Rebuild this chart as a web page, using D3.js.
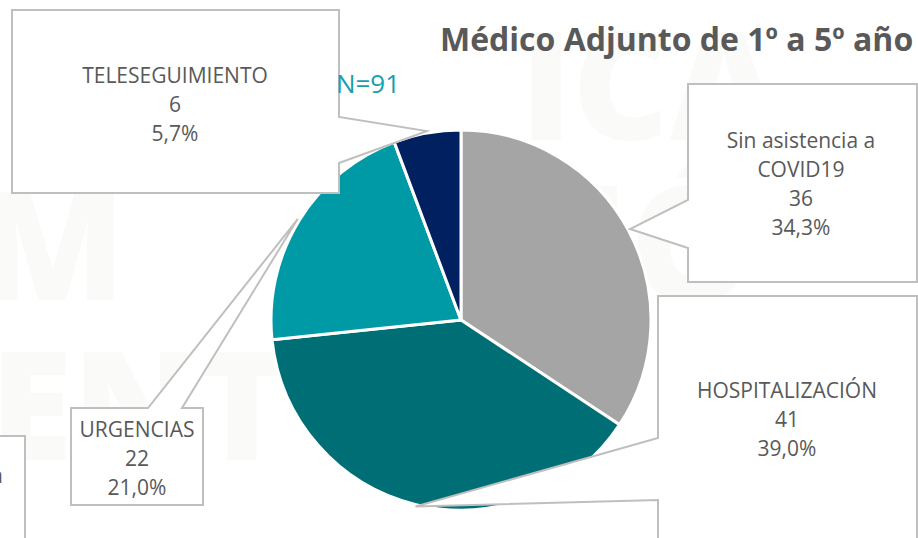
<!DOCTYPE html>
<html>
<head>
<meta charset="utf-8">
<script src="https://cdn.jsdelivr.net/npm/d3@7"></script>
<style>
  body { margin: 0; background: #fff; }
  svg { display: block; font-family: "Open Sans", Lato, sans-serif; }
</style>
</head>
<body>
<svg id="chart" width="918" height="538"></svg>
<script>
var categories = ["Sin asistencia a COVID19", "HOSPITALIZACIÓN", "URGENCIAS", "TELESEGUIMIENTO"];
var values = [36, 41, 22, 6];
var percents = ["34,3%", "39,0%", "21,0%", "5,7%"];
var colors = ["#a5a5a5", "#006f75", "#009aa7", "#002060"];
var titleText = "Médico Adjunto de 1º a 5º año";
var nText = "N=91";

var center = {x: 461, y: 320};
var radius = 190;
var tipRadius = 192;

// callout boxes: box edges, which side the pointer leaves from, the pointer base, label lines
var callouts = [
  {x0: 688, y0: 84, x1: 917, y1: 282, side: "left", b0: 200, b1: 248, cx: 801, y: 148, lines: ["Sin asistencia a", "COVID19"]},
  {x0: 658, y0: 296, x1: 917, y1: 560, side: "left", b0: 438, b1: 500, cx: 787, y: 398, lines: ["HOSPITALIZACIÓN"]},
  {x0: 71, y0: 408, x1: 203, y1: 505, side: "top", b0: 148, b1: 182, cx: 137, y: 437, lines: ["URGENCIAS"]},
  {x0: 12, y0: 10, x1: 339, y1: 193, side: "right", b0: 117, b1: 163, cx: 175, y: 83, lines: ["TELESEGUIMIENTO"]}
];

var svg = d3.select("#chart");

// very faint watermark behind everything
var wm = svg.append("g").attr("fill", "#fafaf9").style("font-weight", "900");
[["M", -20, 300, 150], ["ENT", -10, 460, 150], ["ICA", 520, 140, 150], ["CIÓ", 470, 300, 160]].forEach(function(w) {
  wm.append("text").attr("x", w[1]).attr("y", w[2]).style("font-size", w[3] + "px").text(w[0]);
});

var pie = d3.pie().sort(null).value(function(d) { return d; });
var arcs = pie(values);
var arc = d3.arc().innerRadius(0).outerRadius(radius);
var tipArc = d3.arc().innerRadius(tipRadius).outerRadius(tipRadius);

var g = svg.append("g").attr("transform", "translate(" + center.x + "," + center.y + ")");
g.selectAll("path.slice")
  .data(arcs)
  .enter()
  .append("path")
  .attr("class", "slice")
  .attr("d", arc)
  .attr("fill", function(d, i) { return colors[i]; })
  .attr("stroke", "#fff")
  .attr("stroke-width", 3)
  .attr("stroke-linejoin", "round");

// partial box on the left edge
svg.append("rect")
  .attr("x", -20).attr("y", 436).attr("width", 45).attr("height", 130)
  .attr("fill", "#fff").attr("stroke", "#bfbfbf").attr("stroke-width", 2);
svg.append("text")
  .attr("x", 3).attr("y", 483).attr("text-anchor", "end")
  .attr("fill", "#595959").style("font-size", "21px").text("n");

// callouts
arcs.forEach(function(a, i) {
  var c = callouts[i];
  var t = tipArc.centroid(a);
  var tip = [center.x + t[0], center.y + t[1]];
  var pts;
  if (c.side == "left") {
    pts = [[c.x0, c.y0], [c.x1, c.y0], [c.x1, c.y1], [c.x0, c.y1], [c.x0, c.b1], tip, [c.x0, c.b0]];
  } else if (c.side == "right") {
    pts = [[c.x0, c.y0], [c.x1, c.y0], [c.x1, c.b0], tip, [c.x1, c.b1], [c.x1, c.y1], [c.x0, c.y1]];
  } else {
    pts = [[c.x0, c.y0], [c.b0, c.y0], tip, [c.b1, c.y0], [c.x1, c.y0], [c.x1, c.y1], [c.x0, c.y1]];
  }
  svg.append("path")
    .attr("d", d3.line()(pts) + "Z")
    .attr("fill", "#fff")
    .attr("stroke", "#bfbfbf")
    .attr("stroke-width", 2)
    .attr("stroke-linejoin", "miter");

  var lines = c.lines.concat([String(values[i]), percents[i]]);
  var txt = svg.append("text")
    .attr("text-anchor", "middle")
    .attr("fill", "#595959")
    .style("font-size", "21px");
  lines.forEach(function(l, k) {
    txt.append("tspan").attr("x", c.cx).attr("y", c.y + k * 29).text(l);
  });
});

svg.append("text")
  .attr("x", 440).attr("y", 51)
  .attr("fill", "#595959")
  .style("font-size", "32px")
  .style("font-weight", "bold")
  .text(titleText);

svg.append("text")
  .attr("x", 368).attr("y", 93)
  .attr("text-anchor", "middle")
  .attr("fill", "#17a0ae")
  .style("font-size", "26px")
  .text(nText);
</script>
</body>
</html>
